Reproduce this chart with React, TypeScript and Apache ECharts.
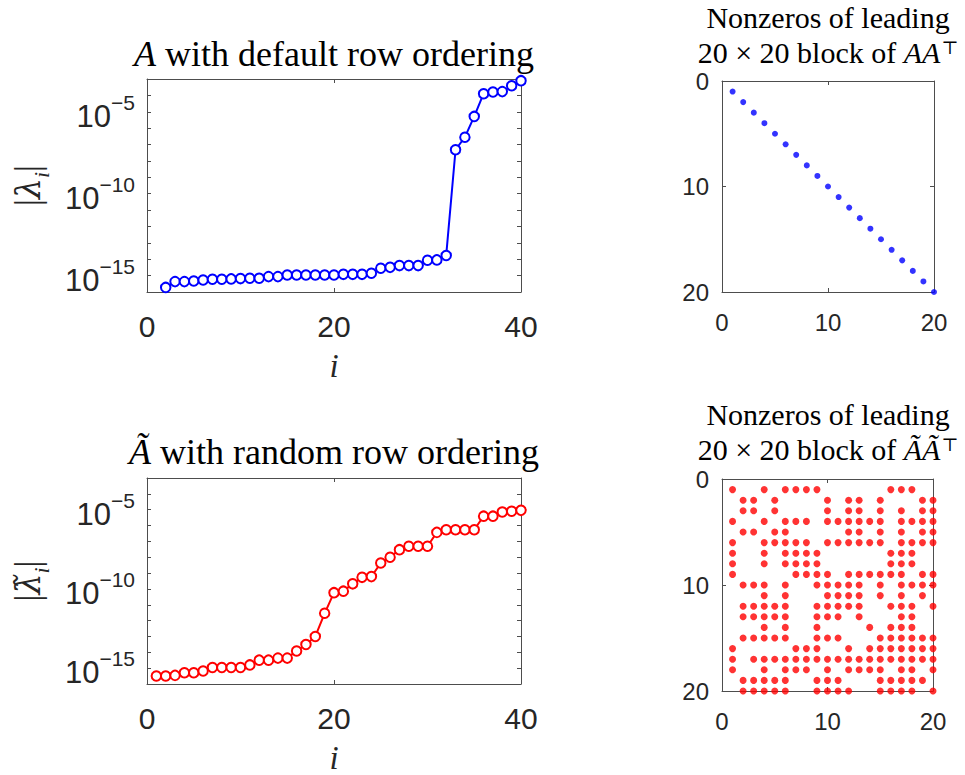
import React, { useEffect, useRef } from 'react';
import * as echarts from 'echarts';

// ---------- data ----------
const iDefault = [2, 3, 4, 5, 6, 7, 8, 9, 10, 11, 12, 13, 14, 15, 16, 17, 18, 19, 20, 21, 22, 23, 24, 25, 26, 27, 28, 29, 30, 31, 32, 33, 34, 35, 36, 37, 38, 39, 40];
const lambdaDefault = [
  1.9e-16, 4.3e-16, 4.3e-16, 4.7e-16, 5.4e-16, 6.0e-16, 6.0e-16, 6.3e-16, 6.6e-16, 6.9e-16,
  6.9e-16, 8.7e-16, 8.7e-16, 1.1e-15, 1.1e-15, 1.1e-15, 1.1e-15, 1.1e-15, 1.1e-15, 1.2e-15,
  1.2e-15, 1.2e-15, 1.4e-15, 2.8e-15, 3.2e-15, 4.1e-15, 4.1e-15, 4.1e-15, 8.7e-15, 9.1e-15,
  1.7e-14, 4.8e-8, 2.8e-7, 5.2e-6, 1.26e-4, 1.6e-4, 1.7e-4, 3.9e-4, 7.9e-4,
];
const iRandom = [1, 2, 3, 4, 5, 6, 7, 8, 9, 10, 11, 12, 13, 14, 15, 16, 17, 18, 19, 20, 21, 22, 23, 24, 25, 26, 27, 28, 29, 30, 31, 32, 33, 34, 35, 36, 37, 38, 39, 40];
const lambdaRandom = [
  3.2e-16, 3.2e-16, 3.5e-16, 5.1e-16, 5.1e-16, 6.6e-16, 1.1e-15, 1.1e-15, 1.1e-15, 1.1e-15,
  1.6e-15, 3.2e-15, 3.2e-15, 4.3e-15, 4.3e-15, 1.2e-14, 3.1e-14, 1.0e-13, 2.9e-12, 5.8e-11,
  7.2e-11, 2.1e-10, 5.4e-10, 6.0e-10, 4.3e-9, 1.0e-8, 3.0e-8, 4.9e-8, 4.9e-8, 4.9e-8,
  3.7e-7, 5.4e-7, 5.4e-7, 5.4e-7, 5.4e-7, 3.9e-6, 3.9e-6, 7.2e-6, 7.9e-6, 9.1e-6,
];
const labelledExponents = [-15, -10, -5];
const spyDiagonal = [1, 2, 3, 4, 5, 6, 7, 8, 9, 10, 11, 12, 13, 14, 15, 16, 17, 18, 19, 20];
const spyRandomRows: number[][] = [
  [1, 4, 6, 7, 8, 9, 16, 17, 18],
  [2, 3, 5, 10, 12, 13, 15, 19, 20],
  [2, 3, 5, 10, 12, 13, 15, 17, 19, 20],
  [1, 4, 6, 7, 8, 10, 11, 12, 13, 14, 15, 17, 18, 19, 20],
  [2, 3, 5, 6, 12, 13, 15, 17, 19, 20],
  [1, 4, 5, 6, 7, 8, 10, 11, 12, 13, 14, 15, 17, 18, 19, 20],
  [1, 4, 6, 7, 8, 9, 16, 17, 18],
  [1, 4, 6, 7, 8, 9, 16, 17, 18],
  [1, 7, 8, 9, 10, 12, 13, 14, 15, 16, 17, 19, 20],
  [2, 3, 4, 6, 9, 10, 11, 12, 13, 15, 17, 18, 19, 20],
  [4, 6, 10, 11, 12, 13, 15, 17, 19],
  [2, 3, 4, 5, 6, 9, 10, 11, 12, 13, 16, 17, 18, 20],
  [2, 3, 4, 5, 6, 9, 10, 11, 13, 17, 18],
  [4, 6, 9, 14, 16, 17, 18],
  [2, 3, 4, 5, 6, 9, 10, 11, 15, 16, 17, 18, 19, 20],
  [1, 7, 8, 9, 12, 14, 15, 16, 17, 18, 19, 20],
  [1, 3, 4, 5, 6, 7, 8, 9, 10, 11, 12, 13, 14, 15, 16, 17, 18, 19, 20],
  [1, 4, 6, 7, 8, 10, 12, 13, 14, 15, 17, 18, 20],
  [2, 3, 4, 5, 6, 9, 10, 11, 15, 16, 17, 18, 19],
  [2, 3, 4, 5, 6, 9, 10, 11, 12, 15, 16, 17, 18, 20],
];

// ---------- style ----------
const SERIF = "'Liberation Serif', 'DejaVu Serif', serif";
const SANS = "'Liberation Sans', Arial, sans-serif";
const TEXT = '#262626';
const LINE = '#4d4d4d';
const BLUE = '#0000ff';
const RED = '#ff0000';

const tickStyle = { show: true, inside: true, length: 4, lineStyle: { color: LINE, width: 1 } };
const lineStyle = { show: true, onZero: false, lineStyle: { color: LINE, width: 1 } };

function xPair(grid: number, min: number, max: number, interval: number, fs: number, margin: number, withName: boolean) {
  return [
    {
      type: 'value', gridIndex: grid, position: 'bottom', min, max, interval,
      axisLine: lineStyle, axisTick: tickStyle, splitLine: { show: false },
      axisLabel: { show: true, margin, fontSize: fs, color: TEXT, fontFamily: SANS },
      name: withName ? 'i' : '', nameLocation: 'middle', nameGap: 57,
      nameTextStyle: { fontFamily: SERIF, fontStyle: 'italic', fontSize: 33, color: TEXT },
    },
    {
      type: 'value', gridIndex: grid, position: 'top', min, max, interval,
      axisLine: lineStyle, axisTick: tickStyle, splitLine: { show: false }, axisLabel: { show: false },
    },
  ];
}

const logRich = {
  b: { fontSize: 31, fontFamily: SANS, color: TEXT, verticalAlign: 'bottom' },
  s: { fontSize: 21, fontFamily: SANS, color: TEXT, verticalAlign: 'bottom', padding: [0, 0, 19, 0] },
};

function logFormatter(v: number) {
  const r = Math.round(v);
  if (Math.abs(v - r) < 1e-6 && labelledExponents.indexOf(r) >= 0) {
    return `{b|10}{s|\u2212${Math.abs(r)}}`;
  }
  return '';
}

const nameRich = {
  p: { fontSize: 35, fontFamily: SERIF, color: TEXT, verticalAlign: 'bottom', padding: [0, 0, 7, 0] },
  l: { fontSize: 33, fontFamily: "'DejaVu Serif', serif", fontStyle: 'italic', color: TEXT, verticalAlign: 'bottom', padding: [0, 0, 7, 0] },
  s: { fontSize: 22, fontFamily: SERIF, fontStyle: 'italic', color: TEXT, verticalAlign: 'bottom' },
};

function yLogPair(grid: number, name: string) {
  return [
    {
      type: 'value', gridIndex: grid, position: 'left', min: -16, max: -3, interval: 1,
      axisLine: lineStyle, axisTick: tickStyle, splitLine: { show: false },
      axisLabel: { show: true, margin: 12, formatter: logFormatter, rich: logRich },
      name, nameLocation: 'middle', nameGap: 95, nameRotate: 90,
      nameTextStyle: { fontSize: 35, fontFamily: SERIF, color: TEXT, rich: nameRich },
    },
    {
      type: 'value', gridIndex: grid, position: 'right', min: -16, max: -3, interval: 1,
      axisLine: lineStyle, axisTick: tickStyle, splitLine: { show: false }, axisLabel: { show: false },
    },
  ];
}

function ySpyPair(grid: number) {
  return [
    {
      type: 'value', gridIndex: grid, position: 'left', min: 0, max: 20, interval: 10, inverse: true,
      axisLine: lineStyle, axisTick: tickStyle, splitLine: { show: false },
      axisLabel: { show: true, margin: 13, fontSize: 24, lineHeight: 20, color: TEXT, fontFamily: SANS },
    },
    {
      type: 'value', gridIndex: grid, position: 'right', min: 0, max: 20, interval: 10, inverse: true,
      axisLine: lineStyle, axisTick: tickStyle, splitLine: { show: false }, axisLabel: { show: false },
    },
  ];
}

const titleRich = {
  n: { fontSize: 36, fontFamily: SERIF, color: '#000', verticalAlign: 'bottom' },
  i: { fontSize: 36, fontFamily: SERIF, fontStyle: 'italic', color: '#000', verticalAlign: 'bottom' },
};
const smallTitleRich = {
  n: { fontSize: 30, lineHeight: 27, fontFamily: SERIF, color: '#000', verticalAlign: 'bottom' },
  i: { fontSize: 30, lineHeight: 27, fontFamily: SERIF, fontStyle: 'italic', color: '#000', verticalAlign: 'bottom' },
  u: { fontSize: 18, lineHeight: 16, fontFamily: SERIF, color: '#000', verticalAlign: 'bottom', padding: [0, 0, 11, 1] },
};

function titleText(x: number, y: number, text: string, rich: any) {
  return {
    type: 'text', x, y, silent: true,
    style: { text, rich, align: 'center', verticalAlign: 'middle' },
  };
}

export default function App() {
  const ref = useRef<HTMLDivElement>(null);
  useEffect(() => {
    const chart = echarts.init(ref.current!, undefined, { renderer: 'svg' });
    const option: any = {
      animation: false,
      backgroundColor: '#ffffff',
      grid: [
        { left: 147, top: 79, width: 374, height: 213, containLabel: false },
        { left: 147, top: 478, width: 374, height: 211, containLabel: false },
        { left: 722, top: 81, width: 212, height: 211, containLabel: false },
        { left: 722, top: 479, width: 211, height: 212, containLabel: false },
      ],
      xAxis: [
        ...xPair(0, 0, 40, 20, 30, 19, true),
        ...xPair(1, 0, 40, 20, 30, 19, true),
        ...xPair(2, 0, 20, 10, 24, 18, false),
        ...xPair(3, 0, 20, 10, 24, 18, false),
      ],
      yAxis: [
        ...yLogPair(0, '{p||}{l|λ}{s|i}{p||}'),
        ...yLogPair(1, '{p||}{l|λ\u0303}{s|i}{p||}'),
        ...ySpyPair(2),
        ...ySpyPair(3),
      ],
      series: [
        {
          type: 'line', xAxisIndex: 0, yAxisIndex: 0, clip: false,
          data: iDefault.map((x, k) => [x, Math.log10(lambdaDefault[k])]),
          symbol: 'emptyCircle', symbolSize: 9.5,
          lineStyle: { color: BLUE, width: 2 },
          itemStyle: { color: BLUE, borderColor: BLUE, borderWidth: 2 },
        },
        {
          type: 'line', xAxisIndex: 2, yAxisIndex: 2, clip: false,
          data: iRandom.map((x, k) => [x, Math.log10(lambdaRandom[k])]),
          symbol: 'emptyCircle', symbolSize: 9.5,
          lineStyle: { color: RED, width: 2 },
          itemStyle: { color: RED, borderColor: RED, borderWidth: 2 },
        },
        {
          type: 'scatter', xAxisIndex: 4, yAxisIndex: 4, clip: false,
          data: spyDiagonal.map((i) => [i, i]),
          symbol: 'circle', symbolSize: 6,
          itemStyle: { color: BLUE },
        },
        {
          type: 'scatter', xAxisIndex: 6, yAxisIndex: 6, clip: false,
          data: spyRandomRows.flatMap((cols, r) => cols.map((c) => [c, r + 1])),
          symbol: 'circle', symbolSize: 7,
          itemStyle: { color: RED },
        },
      ],
      graphic: [
        titleText(334, 54, '{i|A}{n| with default row ordering}', titleRich),
        titleText(334, 452, '{i|Ã}{n| with random row ordering}', titleRich),
        titleText(828, 19, '{n|Nonzeros of leading}', smallTitleRich),
        titleText(828, 54, '{n|20 × 20 block of }{i|AA}{u|⊤}', smallTitleRich),
        titleText(828, 416, '{n|Nonzeros of leading}', smallTitleRich),
        titleText(828, 451, '{n|20 × 20 block of }{i|ÃÃ}{u|⊤}', smallTitleRich),
      ],
    };
    chart.setOption(option);
    return () => chart.dispose();
  }, []);
  return (
    <div
      ref={ref}
      style={{ position: 'absolute', left: 0, top: 0, width: 965, height: 775, background: '#fff' }}
    />
  );
}
